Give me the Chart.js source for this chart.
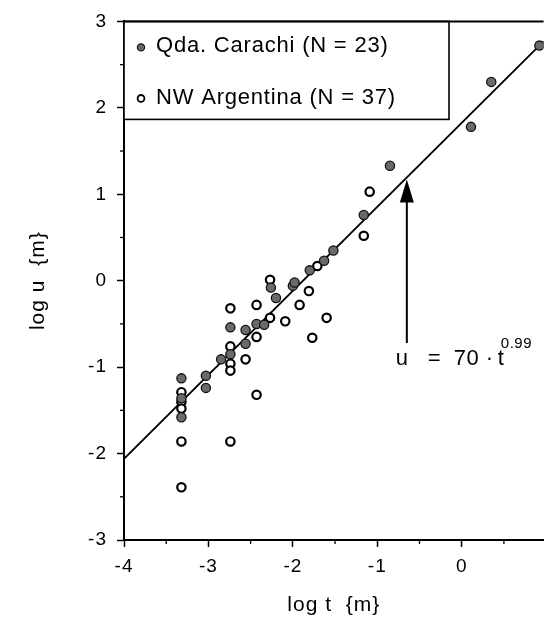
<!DOCTYPE html>
<html><head><meta charset="utf-8">
<script src="https://cdn.jsdelivr.net/npm/chart.js@4/dist/chart.umd.min.js"></script>
<style>html,body{margin:0;padding:0;background:#fff}#wrap{width:550px;height:624px}</style>
</head><body><div id="wrap"><canvas id="c" width="550" height="624"></canvas></div>
<script>
// ---- data ----
const seriesNames = ["Qda. Carachi (N = 23)", "NW Argentina (N = 37)"];
const carachiT = [-3.32,-3.32,-3.32,-3.03,-3.03,-2.85,-2.74,-2.74,-2.56,-2.56,-2.43,-2.34,-2.26,-2.20,-2.00,-1.98,-1.80,-1.63,-1.52,-1.16,-0.85,0.11,0.35,0.92];
const carachiU = [-1.13,-1.36,-1.58,-1.10,-1.24,-0.91,-0.54,-0.85,-0.57,-0.73,-0.50,-0.51,-0.08,-0.20,-0.06,-0.02,0.12,0.23,0.35,0.76,1.33,1.78,2.30,2.72];
const argT = [-3.32,-3.32,-3.32,-3.32,-3.32,-2.74,-2.74,-2.74,-2.74,-2.74,-2.56,-2.43,-2.43,-2.43,-2.27,-2.27,-2.09,-1.92,-1.81,-1.77,-1.60,-1.71,-1.16,-1.09];
const argU = [-1.29,-1.40,-1.48,-1.86,-2.39,-0.32,-0.76,-0.96,-1.04,-1.86,-0.91,-0.28,-0.65,-1.32,0.01,-0.43,-0.47,-0.28,-0.12,-0.66,-0.43,0.17,0.52,1.03];
const fitT = [-4, 0.97];
const fitU = [-2.06, 2.77];
const xTickValues = [-4, -3, -2, -1, 0];
const yTickValues = [-3, -2, -1, 0, 1, 2, 3];
const xMinor = [-3.5, -2.5, -1.5, -0.5, 0.5];
const yMinor = [-2.5, -1.5, -0.5, 0.5, 1.5, 2.5];
const arrowT = -0.65, arrowFromU = -0.72, arrowToU = 1.17;
const eqT = -0.78, eqU = -0.97;
const xTitle = "log t  {m}";
const yTitle = "log u  {m}";

const FONT = "'Liberation Sans', Arial, Helvetica, sans-serif";
const toPts = (ts, us) => ts.map((t, i) => ({x: t, y: us[i]}));

const decor = {
  id: 'decor',
  beforeDraw(chart) { chart.ctx.letterSpacing = '1px'; },
  afterDraw(chart) {
    const {ctx, chartArea: ca, scales: {x, y}} = chart;
    ctx.save();
    ctx.strokeStyle = '#000'; ctx.fillStyle = '#000';
    // minor ticks
    ctx.lineWidth = 1.3;
    xMinor.forEach(v => { const px = x.getPixelForValue(v); ctx.beginPath(); ctx.moveTo(px, ca.bottom); ctx.lineTo(px, ca.bottom + 4); ctx.stroke(); });
    yMinor.forEach(v => { const py = y.getPixelForValue(v); ctx.beginPath(); ctx.moveTo(ca.left, py); ctx.lineTo(ca.left - 4, py); ctx.stroke(); });
    // legend box
    ctx.lineWidth = 1.6;
    ctx.fillStyle = '#fff';
    ctx.fillRect(ca.left, ca.top, 325, 98);
    ctx.strokeRect(ca.left, ca.top, 325, 98);
    // top frame line
    ctx.lineWidth = 2;
    ctx.beginPath(); ctx.moveTo(ca.left - 1, ca.top); ctx.lineTo(ca.right, ca.top); ctx.stroke();
    // legend markers
    const lx = ca.left + 17;
    ctx.beginPath(); ctx.arc(lx, ca.top + 26, 3.6, 0, Math.PI * 2);
    ctx.fillStyle = '#6a6a6a'; ctx.fill(); ctx.lineWidth = 1.2; ctx.strokeStyle = '#111'; ctx.stroke();
    ctx.beginPath(); ctx.arc(lx, ca.top + 77, 3.4, 0, Math.PI * 2);
    ctx.fillStyle = '#fff'; ctx.fill(); ctx.lineWidth = 1.8; ctx.strokeStyle = '#000'; ctx.stroke();
    ctx.fillStyle = '#000';
    ctx.font = '22px ' + FONT;
    ctx.letterSpacing = '0.8px';
    ctx.textBaseline = 'middle'; ctx.textAlign = 'left';
    ctx.fillText(seriesNames[0], ca.left + 32, ca.top + 25);
    ctx.fillText(seriesNames[1], ca.left + 32, ca.top + 77);
    // arrow
    const ax = x.getPixelForValue(arrowT);
    const ay0 = y.getPixelForValue(arrowFromU);
    const ay1 = y.getPixelForValue(arrowToU);
    ctx.lineWidth = 2; ctx.strokeStyle = '#000';
    ctx.beginPath(); ctx.moveTo(ax, ay0); ctx.lineTo(ax, ay1 + 20); ctx.stroke();
    ctx.beginPath(); ctx.moveTo(ax, ay1); ctx.lineTo(ax - 7, ay1 + 23); ctx.lineTo(ax + 7, ay1 + 23); ctx.closePath(); ctx.fill();
    // equation
    const ex = x.getPixelForValue(eqT);
    const ey = y.getPixelForValue(eqU);
    ctx.textBaseline = 'alphabetic';
    ctx.letterSpacing = '0.5px';
    ctx.font = '22px ' + FONT;
    ctx.fillText('u', ex, ey);
    ctx.fillText('=', ex + 32, ey);
    ctx.fillText('70', ex + 58, ey);
    ctx.fillText('·', ex + 90, ey);
    ctx.fillText('t', ex + 102, ey);
    ctx.font = '15px ' + FONT;
    ctx.fillText('0.99', ex + 105, ey - 17);
    ctx.restore();
  }
};

new Chart(document.getElementById('c'), {
  data: {
    datasets: [
      {type: 'scatter', label: seriesNames[0], data: toPts(carachiT, carachiU),
       pointRadius: 4.6, pointBackgroundColor: '#6a6a6a', pointBorderColor: '#111', pointBorderWidth: 1.3},
      {type: 'scatter', label: seriesNames[1], data: toPts(argT, argU),
       pointRadius: 4.2, pointBackgroundColor: '#fff', pointBorderColor: '#000', pointBorderWidth: 2.2},
      {type: 'line', label: 'fit', data: toPts(fitT, fitU), borderColor: '#000', borderWidth: 1.8,
       pointRadius: 0, fill: false, tension: 0}
    ]
  },
  options: {
    responsive: false, animation: false, devicePixelRatio: 1,
    layout: {padding: {left: 0, right: 0, top: 21, bottom: 0}},
    plugins: {legend: {display: false}, tooltip: {enabled: false}},
    scales: {
      x: {
        type: 'linear', min: -4, max: 0.97,
        afterBuildTicks: s => { s.ticks = xTickValues.map(v => ({value: v})); },
        afterFit: s => { s.height = 84; },
        grid: {drawOnChartArea: false, drawTicks: true, tickLength: 7, tickWidth: 1.5, tickColor: '#000'},
        border: {display: true, color: '#000', width: 2},
        ticks: {color: '#000', font: {family: FONT, size: 19}, padding: 8, maxRotation: 0,
                callback: v => String(v)},
        title: {display: true, text: xTitle, color: '#000', font: {family: FONT, size: 21}, padding: {top: 0, bottom: 6}}
      },
      y: {
        type: 'linear', min: -3, max: 3,
        afterBuildTicks: s => { s.ticks = yTickValues.map(v => ({value: v})); },
        afterFit: s => { s.width = 124; },
        grid: {drawOnChartArea: false, drawTicks: true, tickLength: 7, tickWidth: 1.5, tickColor: '#000'},
        border: {display: true, color: '#000', width: 2},
        ticks: {color: '#000', font: {family: FONT, size: 19}, padding: 10, callback: v => String(v)},
        title: {display: true, text: yTitle, color: '#000', font: {family: FONT, size: 21}, padding: {top: 26, bottom: 0}}
      }
    }
  },
  plugins: [decor]
});
</script>
</body></html>
